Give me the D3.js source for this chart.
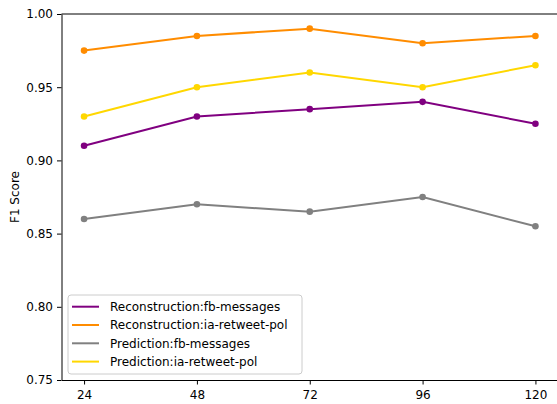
<!DOCTYPE html>
<html>
<head>
<meta charset="utf-8">
<script src="https://cdn.jsdelivr.net/npm/d3@7"></script>
<style>
  body { margin: 0; background: #fff; }
  svg { font-family: "DejaVu Sans", sans-serif; }
</style>
</head>
<body>
<svg id="chart" width="557" height="404"></svg>
<script>
const windows = [24, 48, 72, 96, 120];
const reconFb = [0.91, 0.93, 0.935, 0.94, 0.925];
const reconIa = [0.975, 0.985, 0.99, 0.98, 0.985];
const predFb = [0.86, 0.87, 0.865, 0.875, 0.855];
const predIa = [0.93, 0.95, 0.96, 0.95, 0.965];
const seriesNames = [
  "Reconstruction:fb-messages",
  "Reconstruction:ia-retweet-pol",
  "Prediction:fb-messages",
  "Prediction:ia-retweet-pol"
];
const seriesColors = ["#800080", "#ff8c00", "#808080", "#ffd700"];
const yTicks = [0.75, 0.80, 0.85, 0.90, 0.95, 1.00];

const svg = d3.select("#chart");
const margin = { top: 14, right: -1, bottom: 24, left: 61.5 };
const width = 557, height = 404;
const innerWidth = width - margin.left - margin.right;
const innerHeight = height - margin.top - margin.bottom;

const g = svg.append("g")
  .attr("transform", `translate(${margin.left}, ${margin.top})`);

const x = d3.scaleLinear().domain([19.2, 124.8]).range([0, innerWidth]);
const y = d3.scaleLinear().domain([0.75, 1.0]).range([innerHeight, 0]);

const series = [reconFb, reconIa, predFb, predIa].map((vals, i) => ({
  name: seriesNames[i],
  color: seriesColors[i],
  values: vals.map((v, j) => ({ x: windows[j], y: v }))
}));

const line = d3.line().x(d => x(d.x)).y(d => y(d.y));

series.forEach(s => {
  g.append("path")
    .datum(s.values)
    .attr("fill", "none")
    .attr("stroke", s.color)
    .attr("stroke-width", 2)
    .attr("d", line);
  g.selectAll(null)
    .data(s.values)
    .enter()
    .append("circle")
    .attr("cx", d => x(d.x))
    .attr("cy", d => y(d.y))
    .attr("r", 3.3)
    .attr("fill", s.color);
});

// axes
const xAxis = g.append("g")
  .attr("transform", `translate(0, ${innerHeight})`)
  .call(d3.axisBottom(x).tickValues(windows).tickSize(4.5).tickPadding(5.5).tickSizeOuter(0));
const yAxis = g.append("g")
  .call(d3.axisLeft(y).tickValues(yTicks).tickFormat(d3.format(".2f")).tickSize(4.5).tickPadding(4).tickSizeOuter(0));

[xAxis, yAxis].forEach(a => {
  a.selectAll("text").attr("font-size", "12px").attr("fill", "#000")
    .attr("font-family", "DejaVu Sans, sans-serif");
  a.selectAll("line").attr("stroke", "#000").attr("stroke-width", 1);
  a.select(".domain").attr("stroke", "#000").attr("stroke-width", 1);
});

// top spine
g.append("line")
  .attr("x1", 0).attr("x2", innerWidth)
  .attr("y1", 0).attr("y2", 0)
  .attr("stroke", "#000").attr("stroke-width", 1);

// y label
g.append("text")
  .attr("transform", "rotate(-90)")
  .attr("x", -innerHeight / 2)
  .attr("y", -42.5)
  .attr("text-anchor", "middle")
  .attr("font-size", "12px")
  .text("F1 Score");

// legend
const legend = g.append("g").attr("transform", "translate(6.5, 281)");
legend.append("rect")
  .attr("width", 234)
  .attr("height", 79)
  .attr("rx", 3)
  .attr("fill", "#fff")
  .attr("fill-opacity", 0.8)
  .attr("stroke", "#cccccc");

series.forEach((s, i) => {
  const yy = 11.7 + i * 18.3;
  legend.append("line")
    .attr("x1", 4).attr("x2", 31)
    .attr("y1", yy).attr("y2", yy)
    .attr("stroke", s.color)
    .attr("stroke-width", 2);
  legend.append("text")
    .attr("x", 42)
    .attr("y", yy)
    .attr("dy", "0.35em")
    .attr("font-size", "12px")
    .text(s.name);
});
</script>
</body>
</html>
